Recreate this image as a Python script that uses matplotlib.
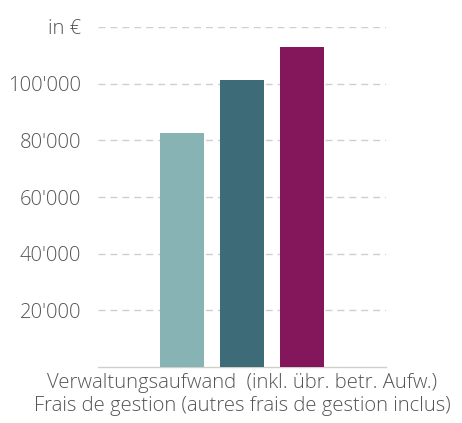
import matplotlib.pyplot as plt

# values (in EUR)
positions = [0, 1, 2]
values = [82500, 101200, 112900]
colors = ['#88b3b5', '#3d6b78', '#84165c']
y_ticks = [20000, 40000, 60000, 80000, 100000, 120000]
y_labels = ["20'000", "40'000", "60'000", "80'000", "100'000", "in €"]
x_label = 'Verwaltungsaufwand  (inkl. übr. betr. Aufw.)\nFrais de gestion (autres frais de gestion inclus)'

plt.rcParams['font.family'] = ['Open Sans', 'DejaVu Sans']
text_color = '#555555'

fig = plt.figure(figsize=(4.62, 4.23), dpi=100)
ax = fig.add_axes([98 / 462, 1 - 367 / 423, 288 / 462, 340 / 423])

ax.bar(positions, values, width=0.733, color=colors, zorder=3)

ax.set_xlim(-1.4, 3.4)
ax.set_ylim(0, 120000)
ax.set_yticks(y_ticks)
ax.set_yticklabels(y_labels, fontsize=14.6, color=text_color, fontweight='light')
ax.set_xticks([])
ax.yaxis.grid(True, color='#d0d0ca', linestyle=(0, (5, 3.6)), linewidth=1.0, zorder=0)
ax.tick_params(axis='y', length=0, pad=12)

for side in ['top', 'right', 'left']:
    ax.spines[side].set_visible(False)
ax.spines['bottom'].set_color('#d0d0ca')
ax.spines['bottom'].set_linewidth(1)

ax.set_xlabel(x_label, fontsize=14.6, color=text_color, fontweight='light',
              labelpad=4, linespacing=1.2)

fig.savefig('out.png', dpi=100)
